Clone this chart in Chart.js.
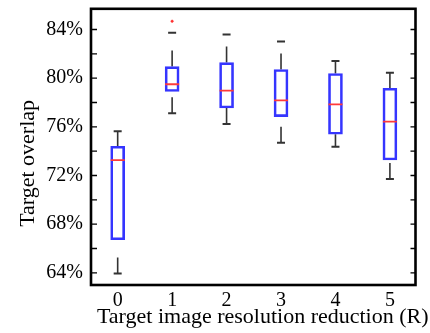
<!DOCTYPE html>
<html>
<head>
<meta charset="utf-8">
<script src="https://cdn.jsdelivr.net/npm/chart.js@4"></script>
<style>
  html, body { margin: 0; padding: 0; background: #fff; }
  #wrap { width: 430px; height: 333px; }
</style>
</head>
<body>
<div id="wrap"><canvas id="chart"></canvas></div>
<script>
// values (percent)
const groups = [0, 1, 2, 3, 4, 5];
const whiskerLow = [63.95, 77.11, 76.24, 74.70, 74.37, 71.71];
const q1 = [66.72, 78.90, 77.55, 76.84, 75.39, 73.27];
const median = [73.27, 79.50, 78.98, 78.18, 77.85, 76.43];
const q3 = [74.40, 80.95, 81.28, 80.71, 80.38, 79.17];
const whiskerHigh = [75.63, 83.73, 83.59, 83.01, 81.42, 80.44];
const outlierGroup = [1];
const outlierValue = [84.68];
const yTicks = [64, 66, 68, 70, 72, 74, 76, 78, 80, 82, 84];
const xTitle = 'Target image resolution reduction (R)';

const serif = "'Liberation Serif', 'Times New Roman', serif";
const tickFont = { family: serif, size: 20 };

let datasets = [];

// boxes
datasets.push({
    type: 'bar',
    data: groups.map(g => ({ x: g, y: [q1[g], q3[g]] })),
    backgroundColor: 'rgba(0,0,0,0)',
    borderColor: '#3535ff',
    borderWidth: 2,
    borderSkipped: false,
    barThickness: 14,
    order: 2
});

// whiskers (dashed, drawn outward from cap / box)
for (const g of groups) {
    datasets.push({
        type: 'line',
        data: [{ x: g, y: whiskerLow[g] }, { x: g, y: q1[g] }],
        borderColor: '#333',
        borderWidth: 1.6,
        borderDash: [16, 20],
        pointRadius: 0,
        order: 3
    });
    datasets.push({
        type: 'line',
        data: [{ x: g, y: q3[g] }, { x: g, y: whiskerHigh[g] }],
        borderColor: '#333',
        borderWidth: 1.6,
        borderDash: [16, 20],
        pointRadius: 0,
        order: 3
    });
}

// whisker caps
datasets.push({
    type: 'scatter',
    data: groups.map(g => ({ x: g, y: whiskerLow[g] })).concat(groups.map(g => ({ x: g, y: whiskerHigh[g] }))),
    pointStyle: 'line',
    pointRadius: 4,
    borderColor: '#333',
    borderWidth: 2,
    order: 1
});

// medians
datasets.push({
    type: 'scatter',
    data: groups.map(g => ({ x: g, y: median[g] })),
    pointStyle: 'line',
    pointRadius: 7,
    borderColor: '#ff3a3a',
    borderWidth: 1.8,
    order: 0
});

// outliers
datasets.push({
    type: 'scatter',
    data: outlierGroup.map((g, i) => ({ x: g, y: outlierValue[i] })),
    pointStyle: 'circle',
    pointRadius: 1.2,
    backgroundColor: '#ff3030',
    borderColor: '#ff3030',
    borderWidth: 0.5,
    order: 0
});

// frame, inward ticks and the x title (which is wider than the plot area)
const framePlugin = {
    id: 'frame',
    afterDraw(chart) {
        const { ctx, chartArea: a, scales } = chart;
        ctx.save();
        ctx.strokeStyle = '#000';
        ctx.lineWidth = 1.3;
        for (const v of yTicks) {
            const y = scales.y.getPixelForValue(v);
            ctx.beginPath();
            ctx.moveTo(a.left, y);
            ctx.lineTo(a.left + 6, y);
            ctx.moveTo(a.right, y);
            ctx.lineTo(a.right - 5, y);
            ctx.stroke();
        }
        ctx.lineWidth = 2.6;
        ctx.strokeRect(a.left, a.top, a.right - a.left, a.bottom - a.top);

        ctx.fillStyle = '#000';
        ctx.font = '22px ' + serif;
        ctx.textAlign = 'center';
        ctx.textBaseline = 'alphabetic';
        ctx.fillText(xTitle, (a.left + a.right) / 2 + 9.5, a.bottom + 38);
        ctx.restore();
    }
};

const chart = new Chart(document.getElementById('chart'), {
    type: 'bar',
    data: { datasets: datasets },
    options: {
        responsive: true,
        maintainAspectRatio: false,
        animation: false,
        layout: { padding: { top: 8, right: 14.5, left: 0, bottom: 0 } },
        plugins: { legend: { display: false }, tooltip: { enabled: false } },
        scales: {
            x: {
                type: 'linear',
                min: -0.49,
                max: 5.47,
                offset: false,
                grid: { display: false, drawTicks: false },
                border: { display: false },
                afterBuildTicks: axis => { axis.ticks = groups.map(g => ({ value: g })); },
                afterFit: axis => { axis.height = 48; axis.paddingLeft = 0; axis.paddingRight = 0; },
                ticks: { color: '#000', font: tickFont, padding: 4, maxRotation: 0, callback: v => String(v) },
                title: { display: false }
            },
            y: {
                min: 63,
                max: 85.7,
                grid: { display: false, drawTicks: false },
                border: { display: false },
                afterBuildTicks: axis => { axis.ticks = yTicks.map(v => ({ value: v })); },
                afterFit: axis => { axis.width = 91; axis.paddingTop = 0; axis.paddingBottom = 0; },
                ticks: { color: '#000', font: tickFont, padding: 8, callback: v => (v % 4 === 0 ? v + '%' : '') },
                title: {
                    display: true,
                    text: 'Target overlap      ',
                    color: '#000',
                    font: { family: serif, size: 22 },
                    padding: { top: 15, bottom: 0 }
                }
            }
        }
    },
    plugins: [framePlugin]
});
</script>
</body>
</html>
